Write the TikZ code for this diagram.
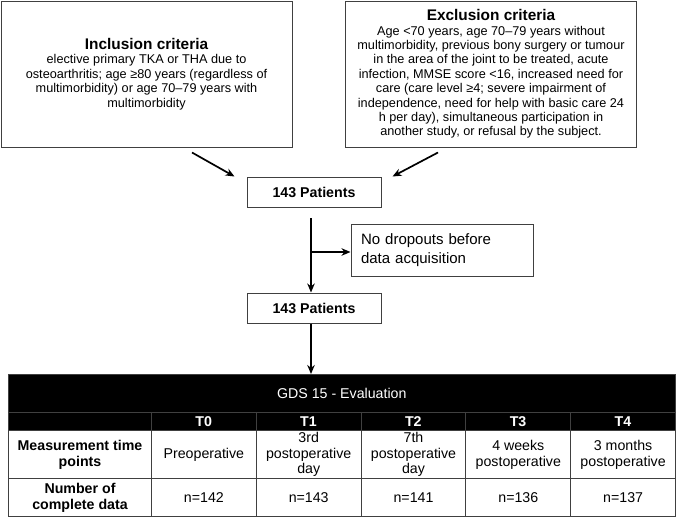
\documentclass[tikz,border=0pt]{standalone}
\usepackage{fontspec}
\setmainfont{Liberation Sans}
\usetikzlibrary{arrows.meta, positioning, calc}
\newcommand{\critfont}{\fontsize{12.7}{14.4}\selectfont}
\newcommand{\titlefont}{\fontsize{15.4}{17}\selectfont\bfseries}
\newcommand{\tabfont}{\fontsize{14.2}{15.8}\selectfont}
\newcommand{\dropfont}{\fontsize{15}{19}\selectfont}

\begin{document}
\begin{tikzpicture}[x=1pt, y=-1pt,
    critbox/.style={draw=black!75, line width=1pt, minimum width=291pt, minimum height=146pt,
                 align=center, inner sep=2pt, font=\critfont},
    patbox/.style={draw=black!75, line width=1pt, minimum width=134pt, minimum height=30pt,
                 font=\tabfont\bfseries},
    dropbox/.style={draw=black!75, line width=1pt, text width=162pt, minimum height=47pt,
                 inner sep=10pt, align=left, font=\dropfont},
    hdr/.style={fill=black, draw=black!75, line width=0.6pt, text=white, anchor=north west,
                 inner sep=0pt, font=\tabfont},
    tcell/.style={draw=black!75, line width=1pt, anchor=north west, minimum width=104.8pt,
                 align=center, inner sep=0pt, font=\tabfont},
    arr/.style={-{Stealth[length=9pt, width=7.5pt]}, line width=1.7pt},
]
\useasboundingbox (0,0) rectangle (677,517);

% criteria boxes
\node[critbox] (incl) at (146.5,74) {{\titlefont Inclusion criteria}\\
  elective primary TKA or THA due to\\
  osteoarthritis; age \char"2265 80 years (regardless of\\
  multimorbidity) or age 70--79 years with\\
  multimorbidity};
\node[critbox] (excl) at (491,74) {{\titlefont Exclusion criteria}\\
  Age <70 years, age 70--79 years without\\
  multimorbidity, previous bony surgery or tumour\\
  in the area of the joint to be treated, acute\\
  infection, MMSE score <16, increased need for\\
  care (care level \char"2265 4; severe impairment of\\
  independence, need for help with basic care 24\\
  h per day), simultaneous participation in\\
  another study, or refusal by the subject.};

% patient flow
\node[patbox] (pat1) at (314,192) {143 Patients};
\node[patbox, below=85pt of pat1] (pat2) {143 Patients};
\node[dropbox] (drop) at (442,250.5) {No dropouts before\\data acquisition};
\coordinate (stem) at (311,218);

\draw[arr] ($(incl.south)+(45.5,5)$) -- ($(pat1.north west)+(-12,0)$);
\draw[arr] ($(excl.south)+(-53,5)$) -- ($(pat1.north east)+(11,0)$);
\draw[arr] (stem) -- (stem |- pat2.north);
\draw[arr] ($(stem |- drop.west)+(0,1.5)$) -- ($(drop.west)+(0,1.5)$);

% evaluation table
\node[hdr, minimum width=667pt, minimum height=38pt] (gds) at (8,374) {GDS 15 - Evaluation};
\node[hdr, minimum width=143pt, minimum height=18pt] (tp) at (8,412) {};
\node[tcell, minimum width=143pt, minimum height=48pt, font=\tabfont\bfseries] (tw) at (8,430)
  {Measurement time\\points};
\node[tcell, minimum width=143pt, minimum height=38pt, font=\tabfont\bfseries] (tn) at (8,478)
  {Number of\\complete data};
\foreach \tp/\when/\num [count=\i from 0] in {T0/Preoperative/142,
    T1/{3rd\\postoperative\\day}/143, T2/{7th\\postoperative\\day}/141,
    T3/{4 weeks\\postoperative}/136, T4/{3 months\\postoperative}/137}{
  \node[hdr, minimum width=104.8pt, minimum height=18pt, font=\tabfont\bfseries] (tp\i)
    at ({151+104.8*\i},412) {\tp};
  \node[tcell, minimum height=48pt] (tw\i) at ({151+104.8*\i},430) {\when};
  \node[tcell, minimum height=38pt] (tn\i) at ({151+104.8*\i},478) {n=\num};
}

\draw[arr] (pat2.south -| stem) -- (stem |- gds.north);

\end{tikzpicture}
\end{document}
